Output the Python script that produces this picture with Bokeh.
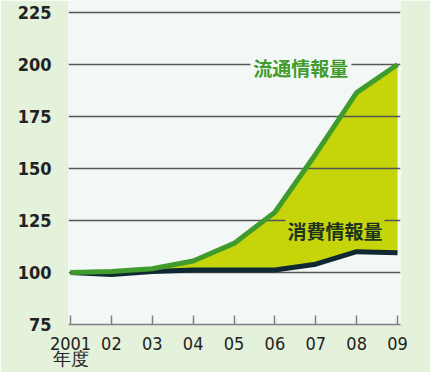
from bokeh.plotting import figure
from bokeh.models import Range1d, FixedTicker, Label
from bokeh.embed import file_html
from bokeh.resources import INLINE

# 年度 (fiscal year) and the two information-volume indices (2001 = 100)
years = [2001, 2002, 2003, 2004, 2005, 2006, 2007, 2008, 2009]
year_labels = ["2001\n年度", "02", "03", "04", "05", "06", "07", "08", "09"]
ryutsu = [100, 100.5, 101.8, 105.5, 114, 129, 157, 186.5, 200]   # 流通情報量
shohi = [100, 99, 100.5, 101.2, 101.2, 101.2, 104, 110, 109.5]   # 消費情報量
y_ticks = [75, 100, 125, 150, 175, 200, 225]

OUTER_BG = "#e4f1db"
PLOT_BG = "#f3f8f6"
GREEN = "#3f9b2c"
FILL = "#c6d40a"
DARK = "#0f2834"
NUM_FONT = "DejaVu Sans Condensed"
JP_FONT = "Noto Sans CJK JP"

p = figure(width=430, height=372, output_backend="svg", toolbar_location=None,
           x_range=Range1d(2000.951, 2009.073), y_range=Range1d(75, 230.8),
           min_border_left=68, min_border_right=30, min_border_top=0,
           min_border_bottom=45)
p.background_fill_color = PLOT_BG
p.border_fill_color = OUTER_BG
p.outline_line_color = None

# band between the two series, drawn beneath the grid lines
p.varea(x=years, y1=shohi, y2=ryutsu, fill_color=FILL, level="image")

p.line(years, shohi, line_color=DARK, line_width=5, line_join="round")
p.line(years, ryutsu, line_color=GREEN, line_width=5, line_join="round")

# grid
p.xgrid.visible = False
p.ygrid.ticker = FixedTicker(ticks=[100, 125, 150, 175, 200, 225])
p.ygrid.grid_line_color = "#555555"
p.ygrid.grid_line_width = 1.5

# y axis: bold condensed numbers, no axis line
p.yaxis.ticker = FixedTicker(ticks=y_ticks)
p.yaxis.axis_line_color = None
p.yaxis.major_tick_line_color = None
p.yaxis.minor_tick_line_color = None
p.yaxis.major_label_text_font = NUM_FONT
p.yaxis.major_label_text_font_style = "bold"
p.yaxis.major_label_text_font_size = "18px"
p.yaxis.major_label_text_color = "#222222"
p.yaxis.major_label_standoff = 11

# x axis: inward ticks, short year labels
p.xaxis.ticker = FixedTicker(ticks=years)
p.xaxis.major_label_overrides = {y: s for y, s in zip(years, year_labels)}
p.xaxis.axis_line_color = "#808080"
p.xaxis.axis_line_width = 1.5
p.xaxis.major_tick_line_color = "#808080"
p.xaxis.major_tick_line_width = 1.5
p.xaxis.major_tick_in = 9
p.xaxis.major_tick_out = 0
p.xaxis.minor_tick_line_color = None
p.xaxis.major_label_text_font = NUM_FONT
p.xaxis.major_label_text_font_size = "18px"
p.xaxis.major_label_text_color = "#222222"
p.xaxis.major_label_text_line_height = 0.75
p.xaxis.major_label_standoff = 8

# series names
p.add_layout(Label(x=2005.4, y=198.8, text="流通情報量", text_font=JP_FONT,
                   text_font_style="bold", text_font_size="19px",
                   text_color=GREEN, text_align="left", text_baseline="middle",
                   background_fill_color=PLOT_BG, padding=3))
p.add_layout(Label(x=2006.26, y=120, text="消費情報量", text_font=JP_FONT,
                   text_font_style="bold", text_font_size="19px",
                   text_color="#1c3320", text_align="left", text_baseline="middle",
                   background_fill_color=FILL, padding=2))

open("out.html", "w").write(file_html(p, INLINE))
